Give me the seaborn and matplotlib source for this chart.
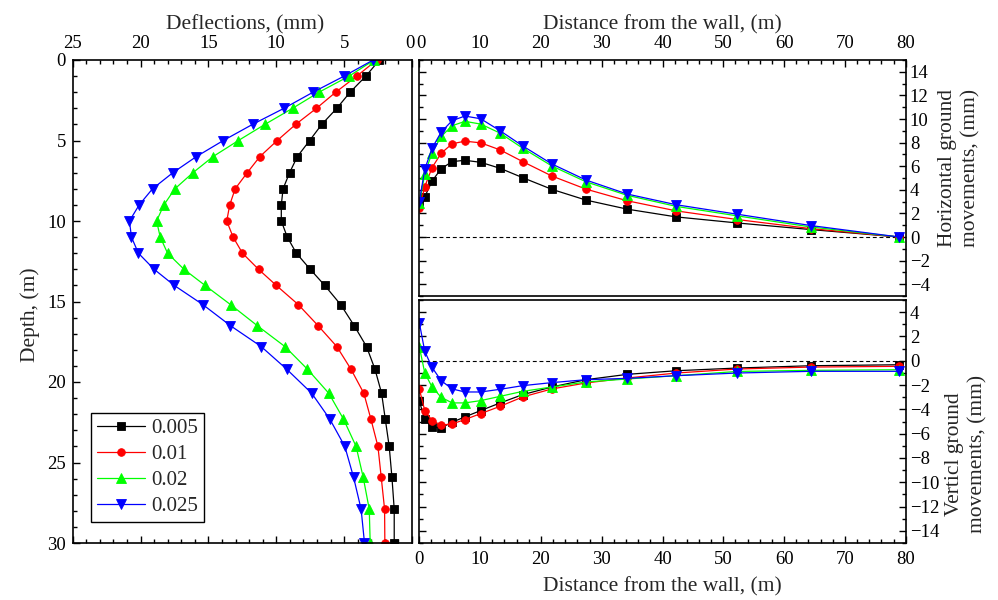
import matplotlib
matplotlib.use("Agg")
import matplotlib.pyplot as plt
import matplotlib.transforms as mtransforms
import pandas as pd
import seaborn as sns
from matplotlib.ticker import MultipleLocator

# Excavation ratio cases
ratios = ["0.005", "0.01", "0.02", "0.025"]
colors = ["#000000", "#ff0000", "#00ff00", "#0000ff"]
marker_shapes = ["s", "o", "^", "v"]

# Wall deflection profiles (mm) against depth (m)
depth_m = [0, 1, 2, 3, 4, 5, 6, 7, 8, 9, 10, 11, 12, 13, 14,
           15.2, 16.5, 17.8, 19.2, 20.7, 22.3, 24.0, 25.9, 27.9, 30.0]
defl_0005 = [2.40, 3.40, 4.56, 5.54, 6.65, 7.54, 8.45, 9.02, 9.50, 9.63, 9.63, 9.19, 8.52,
             7.50, 6.43, 5.25, 4.26, 3.35, 2.73, 2.24, 1.97, 1.68, 1.48, 1.31, 1.31]
defl_001 = [2.59, 4.07, 5.62, 7.04, 8.57, 9.93, 11.21, 12.14, 13.03, 13.43, 13.65, 13.18, 12.49,
            11.31, 10.00, 8.37, 6.92, 5.54, 4.50, 3.55, 3.03, 2.51, 2.27, 2.02, 2.00]
defl_002 = [2.79, 4.63, 6.85, 8.80, 10.84, 12.79, 14.66, 16.14, 17.47, 18.28, 18.82, 18.55, 18.01,
            16.80, 15.25, 13.36, 11.40, 9.36, 7.71, 6.13, 5.05, 4.12, 3.60, 3.15, 3.08]
defl_0025 = [2.86, 5.00, 7.29, 9.43, 11.75, 13.90, 15.89, 17.62, 19.12, 20.10, 20.82, 20.67, 20.16,
             19.00, 17.52, 15.40, 13.38, 11.11, 9.24, 7.39, 6.06, 4.95, 4.31, 3.75, 3.50]

# Ground surface movements (mm) against distance from the wall (m)
dist_m = [0, 0.9, 2.1, 3.6, 5.4, 7.5, 10.1, 13.3, 17.0, 21.8, 27.4, 34.2, 42.3, 52.3, 64.4, 78.9]

horiz_0005 = [2.84, 3.41, 4.74, 5.79, 6.39, 6.50, 6.33, 5.82, 5.03, 4.04, 3.13, 2.36, 1.70, 1.19, 0.63, 0.0]
horiz_001 = [2.42, 4.26, 5.88, 7.10, 7.90, 8.12, 7.98, 7.38, 6.39, 5.17, 4.06, 3.07, 2.21, 1.48, 0.71, 0.0]
horiz_002 = [2.84, 5.34, 7.16, 8.52, 9.43, 9.80, 9.57, 8.80, 7.53, 6.02, 4.68, 3.53, 2.59, 1.79, 0.85, 0.0]
horiz_0025 = [2.98, 5.74, 7.53, 8.89, 9.86, 10.25, 10.02, 9.00, 7.72, 6.19, 4.83, 3.64, 2.73, 1.93, 0.97, 0.0]

vert_0005 = [-3.34, -4.79, -5.44, -5.52, -5.06, -4.62, -4.10, -3.47, -2.79, -2.16, -1.56, -1.12, -0.82, -0.60, -0.41, -0.33]
vert_001 = [-2.32, -4.10, -4.92, -5.30, -5.20, -4.84, -4.35, -3.75, -2.98, -2.32, -1.83, -1.42, -1.01, -0.68, -0.52, -0.46]
vert_002 = [1.17, -1.01, -2.16, -3.01, -3.47, -3.47, -3.28, -2.93, -2.52, -2.16, -1.75, -1.50, -1.23, -0.88, -0.79, -0.74]
vert_0025 = [3.14, 0.77, -0.55, -1.64, -2.32, -2.57, -2.57, -2.35, -2.05, -1.80, -1.56, -1.45, -1.23, -1.01, -0.87, -0.87]


def long_frame(xvals, series, xname, yname):
    rows = []
    for r, ys in zip(ratios, series):
        for xv, yv in zip(xvals, ys):
            rows.append({xname: xv, yname: yv, "ratio": r})
    return pd.DataFrame(rows)


defl_df = long_frame(depth_m, [defl_0005, defl_001, defl_002, defl_0025], "depth", "defl")
horiz_df = long_frame(dist_m, [horiz_0005, horiz_001, horiz_002, horiz_0025], "dist", "val")
vert_df = long_frame(dist_m, [vert_0005, vert_001, vert_002, vert_0025], "dist", "val")

sns.set_theme(style="ticks")
plt.rcParams["font.family"] = ["Liberation Serif", "DejaVu Serif"]
plt.rcParams["axes.unicode_minus"] = True

TICK_FS = 13.5
LABEL_FS = 15.5

fig = plt.figure(figsize=(9.98, 6.0), dpi=100)
W, H = 998.0, 600.0
ax_d = fig.add_axes([72.7 / W, 57 / H, 339.3 / W, 483 / H])
ax_h = fig.add_axes([419.3 / W, (H - 296) / H, 486.4 / W, 236 / H])
ax_v = fig.add_axes([419.3 / W, 57 / H, 486.4 / W, 243 / H])

palette = dict(zip(ratios, colors))
markers = dict(zip(ratios, marker_shapes))


def draw(ax, df, x, y, orient, legend):
    sns.lineplot(data=df, x=x, y=y, hue="ratio", style="ratio",
                 hue_order=ratios, style_order=ratios, palette=palette,
                 markers=markers, dashes=False, estimator=None, orient=orient,
                 linewidth=0.9, markersize=5.5, ax=ax, legend=legend)
    for ln in ax.lines:
        ln.set_markeredgecolor(ln.get_color())
        ln.set_markeredgewidth(0.6)
        if ln.get_marker() in ("^", "v"):
            ln.set_markersize(6.5)


def style_frame(ax):
    for sp in ax.spines.values():
        sp.set_visible(True)
        sp.set_linewidth(1.2)
        sp.set_color("black")
    ax.tick_params(which="both", direction="in", color="black", labelcolor="black",
                   labelsize=TICK_FS, width=1.0)
    ax.tick_params(which="major", length=5)
    ax.tick_params(which="minor", length=3)


# Wall deflection panel
draw(ax_d, defl_df, "defl", "depth", "y", True)
ax_d.set_xlim(25, 0)
ax_d.set_ylim(30, 0)
ax_d.xaxis.set_major_locator(MultipleLocator(5))
ax_d.xaxis.set_minor_locator(MultipleLocator(1))
ax_d.yaxis.set_major_locator(MultipleLocator(5))
ax_d.yaxis.set_minor_locator(MultipleLocator(1))
style_frame(ax_d)
ax_d.xaxis.set_label_position("top")
ax_d.tick_params(axis="x", which="both", top=True, bottom=True, labeltop=True, labelbottom=False, pad=6)
ax_d.tick_params(axis="y", which="both", left=True, right=False, pad=5)
ax_d.set_xlabel("Deflections, (mm)", fontsize=LABEL_FS)
ax_d.set_ylabel("Depth, (m)", fontsize=LABEL_FS)
ax_d.xaxis.set_label_coords(0.509, 1.064)
ax_d.yaxis.set_label_coords(-0.096, 0.472)

old = ax_d.get_legend()
handles = list(old.legend_handles)
labels = [t.get_text() for t in old.get_texts()]
for hd in handles:
    hd.set_markeredgecolor(hd.get_color())
    hd.set_markeredgewidth(0.6)
    hd.set_linewidth(0.9)
    if hd.get_marker() in ("^", "v"):
        hd.set_markersize(6.5)
    else:
        hd.set_markersize(5.5)
leg = ax_d.legend(handles, labels, loc="lower left", bbox_to_anchor=(0.053, 0.043),
                  borderaxespad=0, frameon=True, fancybox=False, framealpha=1,
                  edgecolor="black", fontsize=15, handlelength=2.3, handletextpad=0.3,
                  borderpad=0.3, labelspacing=0.3)
leg.get_frame().set_linewidth(1.0)

# Horizontal ground movement panel
ax_h.axhline(0, color="black", linestyle=(0, (3.5, 2.5)), linewidth=0.8, zorder=1)
draw(ax_h, horiz_df, "dist", "val", "x", False)
ax_h.set_xlim(0, 80)
ax_h.set_ylim(-5, 15)
ax_h.xaxis.set_major_locator(MultipleLocator(10))
ax_h.xaxis.set_minor_locator(MultipleLocator(2))
ax_h.yaxis.set_major_locator(MultipleLocator(2))
ax_h.yaxis.set_minor_locator(MultipleLocator(1))
style_frame(ax_h)
ax_h.xaxis.set_label_position("top")
ax_h.tick_params(axis="x", which="both", top=True, bottom=False, labeltop=True, labelbottom=False, pad=6)
ax_h.yaxis.set_label_position("right")
ax_h.tick_params(axis="y", which="both", left=True, right=True, labelleft=False, labelright=True, pad=3)
ax_h.set_xlabel("Distance from the wall, (m)", fontsize=LABEL_FS)
ax_h.set_ylabel("Horizontal ground\nmovements, (mm)", fontsize=LABEL_FS, linespacing=1.3)
ax_h.xaxis.set_label_coords(0.5, 1.13)
ax_h.yaxis.set_label_coords(1.066, 0.542)

# Vertical ground movement panel
ax_v.axhline(0, color="black", linestyle=(0, (3.5, 2.5)), linewidth=0.8, zorder=1)
draw(ax_v, vert_df, "dist", "val", "x", False)
ax_v.set_xlim(0, 80)
ax_v.set_ylim(-15, 5)
ax_v.xaxis.set_major_locator(MultipleLocator(10))
ax_v.xaxis.set_minor_locator(MultipleLocator(2))
ax_v.yaxis.set_major_locator(MultipleLocator(2))
ax_v.yaxis.set_minor_locator(MultipleLocator(1))
style_frame(ax_v)
ax_v.tick_params(axis="x", which="both", top=False, bottom=True, labeltop=False, labelbottom=True, pad=6)
ax_v.yaxis.set_label_position("right")
ax_v.tick_params(axis="y", which="both", left=True, right=True, labelleft=False, labelright=True, pad=3)
ax_v.set_xlabel("Distance from the wall, (m)", fontsize=LABEL_FS)
ax_v.set_ylabel("Verticl ground\nmovements, (mm)", fontsize=LABEL_FS, linespacing=1.3)
ax_v.xaxis.set_label_coords(0.5, -0.14)
ax_v.yaxis.set_label_coords(1.081, 0.366)

# Nudge the two neighbouring "0" labels at the top apart so they sit side by side
fig.canvas.draw()
for ax, dx in ((ax_d, -1.2), (ax_h, 1.2)):
    for tick in ax.xaxis.get_major_ticks():
        if abs(tick.get_loc()) < 1e-9:
            shift = mtransforms.ScaledTranslation(dx / 72.0, 0, fig.dpi_scale_trans)
            tick.label2.set_transform(tick.label2.get_transform() + shift)

fig.savefig("out.png", dpi=100, facecolor="white")
